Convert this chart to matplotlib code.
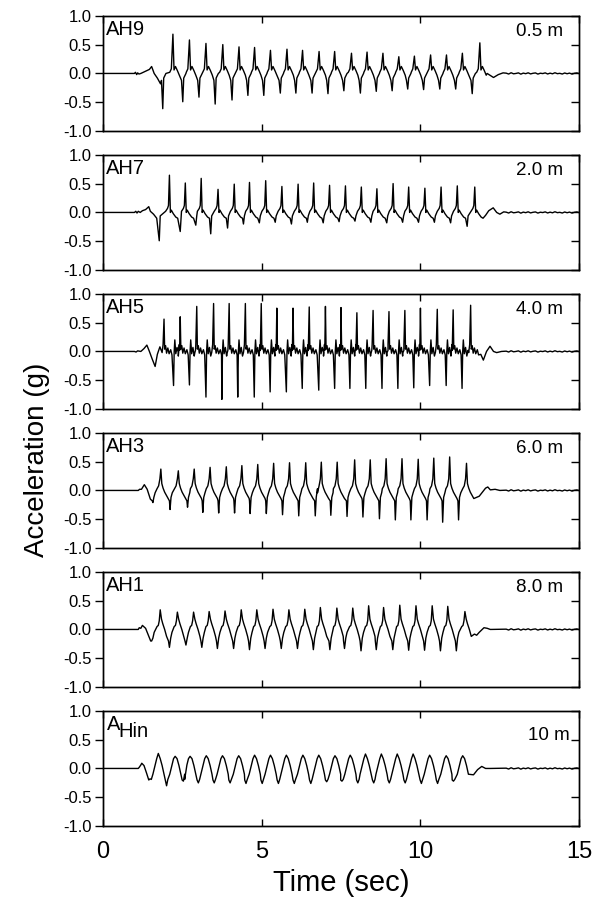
import numpy as np
import matplotlib
matplotlib.use('Agg')
import matplotlib.pyplot as plt

plt.rcParams['font.family'] = ['Liberation Sans', 'DejaVu Sans']

# ---- data (time in s, acceleration in g) ----
# small recording noise after shaking stops (shared by all gauges)
noise_v = [0.005, -0.01, 0.012, -0.006, 0.0, 0.01, -0.012, 0.006, -0.004, 0.011,
           -0.008, 0.003, 0.009, -0.011, 0.004, -0.002, 0.01, -0.009, 0.005, -0.006,
           0.012, -0.004, 0.002, -0.01, 0.008, -0.005, 0.006, -0.011, 0.003, 0.009, -0.003]

# AH9, 0.5 m
ah9_onset = [(0, 0), (1.0, 0), (1.03, 0.02), (1.07, -0.02), (1.1, 0.01), (1.14, -0.01),
             (1.2, 0.0), (1.35, 0.04), (1.47, 0.07), (1.54, 0.12), (1.62, 0.0),
             (1.72, -0.08), (1.82, -0.18)]
ah9_peak_t = [2.21, 2.73, 3.25, 3.78, 4.29, 4.78, 5.28, 5.80, 6.29, 6.81,
              7.30, 7.83, 8.32, 8.82, 9.32, 9.81, 10.32, 10.82, 11.32, 11.87]
ah9_peak_v = [0.68, 0.58, 0.52, 0.50, 0.46, 0.45, 0.40, 0.42, 0.40, 0.38,
              0.38, 0.35, 0.37, 0.35, 0.29, 0.30, 0.32, 0.32, 0.35, 0.53]
ah9_trough_t = [1.89, 2.52, 3.03, 3.54, 4.07, 4.57, 5.07, 5.59, 6.08, 6.59,
                7.09, 7.59, 8.11, 8.61, 9.11, 9.60, 10.10, 10.61, 11.11, 11.63]
ah9_trough_v = [-0.61, -0.49, -0.41, -0.53, -0.46, -0.38, -0.38, -0.34, -0.34, -0.34,
                -0.35, -0.30, -0.34, -0.31, -0.30, -0.27, -0.28, -0.27, -0.27, -0.35]
ah9_pk_lead = [(0.10, 0.02), (0.05, 0.08)]
ah9_pk_trail = [(0.035, 0.06), (0.08, 0.12), (0.14, 0.05), (0.2, -0.03)]
ah9_tr_lead = [(0.04, -0.12)]
ah9_tr_trail = [(0.03, -0.08), (0.1, 0.0)]
ah9_tail = [(12.1, 0.0), (12.3, -0.07), (12.45, -0.02), (12.6, 0.01)]

# AH7, 2.0 m
ah7_onset = [(0, 0), (1.0, 0), (1.04, 0.02), (1.08, -0.01), (1.12, 0.02), (1.18, 0.0),
             (1.25, 0.03), (1.35, 0.05), (1.45, 0.1), (1.5, 0.02), (1.6, -0.03), (1.7, -0.1)]
ah7_peak_t = [2.10, 2.60, 3.10, 3.63, 4.14, 4.62, 5.13, 5.64, 6.15, 6.64,
              7.14, 7.64, 8.14, 8.63, 9.14, 9.63, 10.14, 10.65, 11.16, 11.71]
ah7_peak_v = [0.645, 0.51, 0.59, 0.40, 0.49, 0.52, 0.55, 0.45, 0.49, 0.51,
              0.47, 0.46, 0.44, 0.41, 0.50, 0.44, 0.42, 0.44, 0.46, 0.44]
ah7_trough_t = [1.78, 2.44, 2.93, 3.40, 3.93, 4.43, 4.93, 5.43, 5.94, 6.44,
                6.94, 7.44, 7.94, 8.44, 8.94, 9.44, 9.94, 10.44, 10.95, 11.47]
ah7_trough_v = [-0.49, -0.33, -0.22, -0.37, -0.27, -0.20, -0.18, -0.17, -0.20, -0.17,
                -0.18, -0.16, -0.15, -0.17, -0.18, -0.17, -0.17, -0.17, -0.18, -0.24]
ah7_pk_lead = [(0.12, 0.02), (0.06, 0.07), (0.03, 0.12)]
ah7_pk_trail = [(0.03, 0.0), (0.06, 0.04), (0.12, -0.02), (0.2, -0.08), (0.26, -0.1)]
ah7_tr_lead = []
ah7_tr_trail = [(0.03, -0.06)]
ah7_tail = [(12.05, -0.05), (12.15, 0.03), (12.29, 0.08), (12.4, 0.0), (12.5, -0.03), (12.62, 0.01)]

# AH5, 4.0 m
ah5_onset = [(0, 0), (1.0, 0), (1.05, -0.01), (1.1, 0.01), (1.2, 0.0), (1.3, 0.05),
             (1.39, 0.11), (1.47, 0.0), (1.55, -0.12), (1.65, -0.26), (1.72, -0.05), (1.8, 0.08)]
ah5_peak_t = [1.93, 2.44, 2.96, 3.49, 3.98, 4.49, 4.99, 5.48, 5.99, 6.50,
              7.01, 7.50, 8.00, 8.51, 9.01, 9.51, 10.00, 10.53, 11.03, 11.58]
ah5_peak_v = [0.56, 0.60, 0.78, 0.83, 0.83, 0.83, 0.83, 0.75, 0.75, 0.77,
              0.78, 0.76, 0.67, 0.71, 0.69, 0.71, 0.75, 0.73, 0.72, 0.80]
ah5_trough_t = [2.23, 2.73, 3.25, 3.75, 4.25, 4.77, 5.27, 5.78, 6.28, 6.80,
                7.30, 7.78, 8.28, 8.79, 9.29, 9.79, 10.29, 10.81, 11.31]
ah5_trough_v = [-0.59, -0.58, -0.79, -0.83, -0.79, -0.79, -0.70, -0.70, -0.64, -0.67,
                -0.64, -0.64, -0.64, -0.64, -0.64, -0.63, -0.59, -0.59, -0.64]
ah5_pk_lead = [(0.06, -0.02), (0.03, 0.12)]
ah5_pk_trail = [(0.02, 0.04), (0.05, 0.1), (0.08, -0.03), (0.12, 0.06), (0.16, -0.04),
                (0.21, 0.03), (0.25, -0.06)]
ah5_tr_lead = []
ah5_tr_trail = [(0.02, 0.0), (0.04, 0.2), (0.07, -0.04), (0.11, 0.07), (0.15, -0.08), (0.19, 0.02)]
ah5_tail = [(11.9, -0.05), (11.98, -0.15), (12.08, 0.0), (12.19, 0.09), (12.3, 0.0),
            (12.4, -0.02), (12.55, 0.0)]

# AH3, 6.0 m
ah3_onset = [(0, 0), (1.0, 0), (1.12, 0.0), (1.16, 0.02), (1.22, 0.02), (1.31, 0.10),
             (1.4, 0.02), (1.5, -0.15)]
ah3_peak_t = [1.83, 2.38, 2.88, 3.38, 3.89, 4.38, 4.88, 5.38, 5.88, 6.39,
              6.88, 7.38, 7.93, 8.42, 8.92, 9.42, 9.93, 10.42, 10.92, 11.45]
ah3_peak_v = [0.37, 0.34, 0.37, 0.40, 0.41, 0.43, 0.45, 0.47, 0.48, 0.48,
              0.49, 0.49, 0.53, 0.53, 0.55, 0.55, 0.54, 0.56, 0.58, 0.47]
ah3_trough_t = [1.58, 2.12, 2.67, 3.15, 3.65, 4.15, 4.64, 5.15, 5.66, 6.17,
                6.69, 7.18, 7.69, 8.19, 8.71, 9.21, 9.70, 10.21, 10.70, 11.20]
ah3_trough_v = [-0.21, -0.33, -0.29, -0.38, -0.39, -0.39, -0.40, -0.40, -0.42, -0.44,
                -0.44, -0.43, -0.45, -0.46, -0.49, -0.51, -0.51, -0.51, -0.55, -0.51]
ah3_pk_lead = [(0.12, 0.03), (0.07, 0.08), (0.03, 0.2)]
ah3_pk_trail = [(0.03, 0.12), (0.07, 0.04), (0.12, -0.03), (0.19, -0.1), (0.23, -0.14)]
ah3_tr_lead = [(0.02, -0.18)]
ah3_tr_trail = [(0.03, -0.12), (0.07, -0.04)]
ah3_tail = [(11.85, -0.1), (11.95, -0.03), (12.05, 0.04), (12.12, 0.06), (12.2, 0.01),
            (12.35, 0.02), (12.5, 0.0)]

# AH1, 8.0 m
ah1_onset = [(0, 0), (1.0, 0), (1.12, 0.0), (1.15, 0.03), (1.2, 0.02), (1.25, 0.07),
             (1.35, 0.02), (1.45, -0.12)]
ah1_peak_t = [1.81, 2.35, 2.86, 3.35, 3.85, 4.36, 4.85, 5.36, 5.86, 6.36,
              6.85, 7.37, 7.87, 8.37, 8.84, 9.35, 9.86, 10.37, 10.86, 11.40]
ah1_peak_v = [0.34, 0.30, 0.30, 0.31, 0.32, 0.34, 0.34, 0.35, 0.34, 0.35,
              0.38, 0.37, 0.37, 0.41, 0.38, 0.42, 0.41, 0.41, 0.40, 0.31]
ah1_trough_t = [1.54, 2.10, 2.62, 3.12, 3.61, 4.12, 4.62, 5.11, 5.62, 6.13,
                6.63, 7.15, 7.61, 8.13, 8.61, 9.13, 9.63, 10.13, 10.63, 11.13]
ah1_trough_v = [-0.20, -0.31, -0.27, -0.31, -0.33, -0.33, -0.35, -0.33, -0.33, -0.33,
                -0.35, -0.35, -0.33, -0.37, -0.35, -0.35, -0.36, -0.36, -0.37, -0.37]
ah1_pk_lead = [(0.1, 0.05), (0.06, 0.07), (0.03, 0.15)]
ah1_pk_trail = [(0.04, 0.18), (0.08, 0.1), (0.14, 0.0), (0.2, -0.12)]
ah1_tr_lead = [(0.03, -0.2)]
ah1_tr_trail = [(0.04, -0.15), (0.08, -0.05)]
ah1_tail = [(11.7, -0.08), (11.77, -0.10), (11.85, -0.05), (12.0, 0.03), (12.1, 0.02), (12.2, 0.0)]

# AHin, 10 m (input motion)
ahin_onset = [(0, 0), (1.0, 0), (1.12, 0.0), (1.15, 0.02), (1.2, 0.06), (1.23, 0.09),
              (1.3, 0.05), (1.38, -0.08)]
ahin_peak_t = [1.75, 2.28, 2.75, 3.26, 3.77, 4.28, 4.78, 5.28, 5.78, 6.30,
               6.80, 7.31, 7.79, 8.27, 8.77, 9.27, 9.77, 10.29, 10.81, 11.33]
ahin_peak_v = [0.26, 0.21, 0.21, 0.22, 0.22, 0.22, 0.23, 0.23, 0.23, 0.23,
               0.23, 0.22, 0.23, 0.25, 0.25, 0.25, 0.25, 0.23, 0.22, 0.22]
ahin_trough_t = [1.49, 2.01, 2.54, 3.01, 3.51, 4.01, 4.51, 5.02, 5.53, 6.03,
                 6.55, 7.05, 7.53, 8.03, 8.53, 9.02, 9.52, 10.03, 10.54, 11.04]
ahin_trough_v = [-0.18, -0.30, -0.22, -0.25, -0.25, -0.25, -0.26, -0.26, -0.26, -0.26,
                 -0.26, -0.23, -0.22, -0.25, -0.25, -0.25, -0.25, -0.26, -0.26, -0.22]
ahin_pk_lead = [(0.17, -0.1), (0.1, 0.06), (0.05, 0.17)]
ahin_pk_trail = [(0.06, 0.17), (0.12, 0.05), (0.18, -0.1)]
ahin_tr_lead = [(0.04, -0.2)]
ahin_tr_trail = [(0.04, -0.19)]
ahin_tail = [(11.67, -0.11), (11.8, -0.02), (11.93, 0.035), (12.05, 0.0), (12.2, 0.0)]

names = ['AH9', 'AH7', 'AH5', 'AH3', 'AH1', 'AHin']
depths = ['0.5 m', '2.0 m', '4.0 m', '6.0 m', '8.0 m', '10 m']
ytick_vals = [-1.0, -0.5, 0.0, 0.5, 1.0]
ytick_labels = ['-1.0', '-0.5', '0.0', '0.5', '1.0']
xtick_vals = [0, 5, 10, 15]

panels = [
    (ah9_onset, ah9_peak_t, ah9_peak_v, ah9_trough_t, ah9_trough_v,
     ah9_pk_lead, ah9_pk_trail, ah9_tr_lead, ah9_tr_trail, ah9_tail),
    (ah7_onset, ah7_peak_t, ah7_peak_v, ah7_trough_t, ah7_trough_v,
     ah7_pk_lead, ah7_pk_trail, ah7_tr_lead, ah7_tr_trail, ah7_tail),
    (ah5_onset, ah5_peak_t, ah5_peak_v, ah5_trough_t, ah5_trough_v,
     ah5_pk_lead, ah5_pk_trail, ah5_tr_lead, ah5_tr_trail, ah5_tail),
    (ah3_onset, ah3_peak_t, ah3_peak_v, ah3_trough_t, ah3_trough_v,
     ah3_pk_lead, ah3_pk_trail, ah3_tr_lead, ah3_tr_trail, ah3_tail),
    (ah1_onset, ah1_peak_t, ah1_peak_v, ah1_trough_t, ah1_trough_v,
     ah1_pk_lead, ah1_pk_trail, ah1_tr_lead, ah1_tr_trail, ah1_tail),
    (ahin_onset, ahin_peak_t, ahin_peak_v, ahin_trough_t, ahin_trough_v,
     ahin_pk_lead, ahin_pk_trail, ahin_tr_lead, ahin_tr_trail, ahin_tail),
]


def build_trace(onset, pk_t, pk_v, tr_t, tr_v, pk_lead, pk_trail, tr_lead, tr_trail, tail):
    pts = list(onset)
    for t, v in zip(pk_t, pk_v):
        pts += [(t - dt, y) for dt, y in pk_lead]
        pts.append((t, v))
        pts += [(t + dt, y) for dt, y in pk_trail]
    for t, v in zip(tr_t, tr_v):
        pts += [(t - dt, y) for dt, y in tr_lead]
        pts.append((t, v))
        pts += [(t + dt, y) for dt, y in tr_trail]
    pts += tail
    nt = np.linspace(12.7, 15.0, len(noise_v))
    pts += list(zip(nt, noise_v))
    pts.sort(key=lambda p: p[0])
    t, a = zip(*pts)
    return np.array(t), np.array(a)


W, H = 603, 902
fig = plt.figure(figsize=(W / 100, H / 100), dpi=100)

left = 102.7 / W
width = 476.6 / W
h_px = 115.5

for i, p in enumerate(panels):
    top_px = 15.7 + 139.0 * i
    ax = fig.add_axes([left, 1 - (top_px + h_px) / H, width, h_px / H])
    t, a = build_trace(*p)
    ax.plot(t, a, color='black', lw=1.0)
    ax.set_xlim(0, 15)
    ax.set_ylim(-1, 1)
    ax.set_xticks(xtick_vals)
    ax.set_yticks(ytick_vals)
    ax.set_yticklabels(ytick_labels)
    ax.tick_params(axis='x', direction='in', top=True, length=5, width=1,
                   labelsize=17, pad=11)
    ax.tick_params(axis='y', direction='out', length=6, width=1, labelsize=12, pad=2)
    if i < len(panels) - 1:
        ax.tick_params(axis='x', labelbottom=False)
    for s in ax.spines.values():
        s.set_linewidth(1.0)
    tw = ax.twinx()
    tw.set_ylim(-1, 1)
    tw.set_yticks(ytick_vals)
    tw.tick_params(axis='y', direction='in', length=6, width=1, labelright=False)
    for s in tw.spines.values():
        s.set_linewidth(1.0)

    if names[i] == 'AHin':
        ax.text(0.008, 0.96, 'A', transform=ax.transAxes, fontsize=14.5, va='top', ha='left')
        ax.text(0.033, 0.9, 'Hin', transform=ax.transAxes, fontsize=14.5, va='top', ha='left')
        ax.text(0.98, 0.745, depths[i], transform=ax.transAxes, fontsize=13.5,
                va='baseline', ha='right')
    else:
        ax.text(0.006, 0.965, names[i], transform=ax.transAxes, fontsize=14.5,
                va='top', ha='left')
        ax.text(0.966, 0.825, depths[i], transform=ax.transAxes, fontsize=13.5,
                va='baseline', ha='right')

fig.text(0.062, 0.49, 'Acceleration (g)', rotation=90, fontsize=20, va='center', ha='center')
fig.text((102.7 + 476.6 / 2) / W, 1 - 883 / H, 'Time (sec)', fontsize=21,
         va='center', ha='center')

fig.savefig('out.png', dpi=100)
